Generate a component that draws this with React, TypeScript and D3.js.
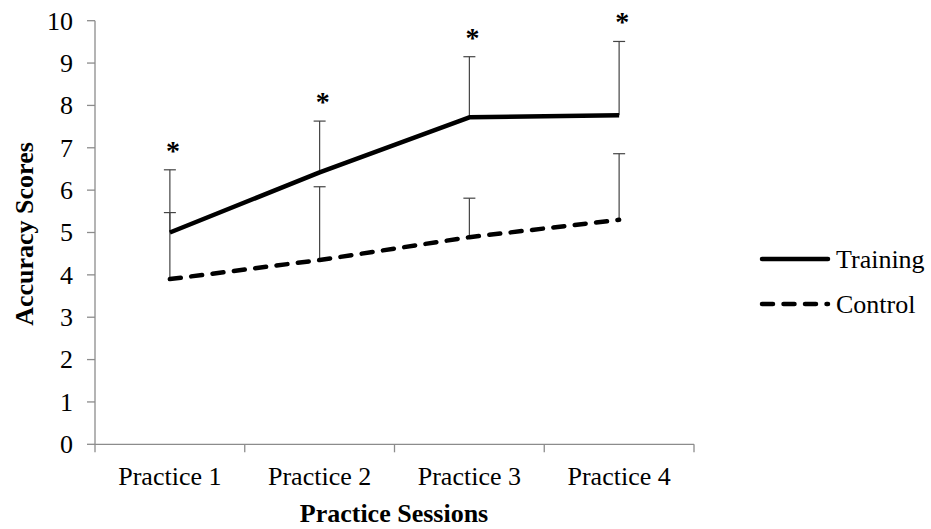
import * as d3 from 'd3';
import React from 'react';

// chart values
const sessions = ['Practice 1', 'Practice 2', 'Practice 3', 'Practice 4'];
const training = [5.0, 6.42, 7.72, 7.77];
const trainingErr = [1.48, 1.21, 1.43, 1.74];
const control = [3.9, 4.35, 4.89, 5.3];
const controlErr = [1.57, 1.73, 0.92, 1.56];
const significant = [true, true, true, true];
const yTicks = [0, 1, 2, 3, 4, 5, 6, 7, 8, 9, 10];

const W = 931;
const H = 529;
const font = "'Times New Roman', 'Liberation Serif', 'DejaVu Serif', serif";
const dash = '11,10.5';

function App() {
  const x = d3.scaleBand<string>().domain(sessions).range([95, 694]);
  const y = d3.scaleLinear().domain([0, 10]).range([444.3, 20.7]);
  const cx = (s: string) => (x(s) || 0) + x.bandwidth() / 2;

  const line = d3.line<number>()
    .x((d, i) => cx(sessions[i]))
    .y((d) => y(d));

  const errBar = (vals: number[], errs: number[], key: string) =>
    vals.map((v, i) => {
      const px = cx(sessions[i]);
      const top = y(v + errs[i]);
      return (
        <g key={key + i} stroke="#444" strokeWidth={1.2}>
          <line x1={px} x2={px} y1={y(v)} y2={top} />
          <line x1={px - 6} x2={px + 6} y1={top} y2={top} />
        </g>
      );
    });

  return (
    <svg width={W} height={H} style={{ position: 'absolute', left: 0, top: 0, fontFamily: font }}>
      <rect width={W} height={H} fill="#fff" />

      {/* axes */}
      <g stroke="#8c8c8c" strokeWidth={1.3}>
        <line x1={95} x2={95} y1={y(10)} y2={y(0)} />
        <line x1={95} x2={694} y1={y(0)} y2={y(0)} />
        {yTicks.map((t) => (
          <line key={'yt' + t} x1={87} x2={95} y1={y(t)} y2={y(t)} />
        ))}
        {[...sessions.map((s) => x(s) || 0), 694].map((px, i) => (
          <line key={'xt' + i} x1={px} x2={px} y1={y(0)} y2={y(0) + 8} />
        ))}
      </g>
      {yTicks.map((t) => (
        <text key={'yl' + t} x={73} y={y(t)} dy="0.34em" textAnchor="end" fontSize={26} fill="#000">
          {t}
        </text>
      ))}
      {sessions.map((s) => (
        <text key={s} x={cx(s)} y={485} textAnchor="middle" fontSize={26} fill="#000">
          {s}
        </text>
      ))}
      <text x={394} y={522} textAnchor="middle" fontSize={26} fontWeight="bold">
        Practice Sessions
      </text>
      <text
        transform={`translate(33,234) rotate(-90)`}
        textAnchor="middle"
        fontSize={26}
        fontWeight="bold"
      >
        Accuracy Scores
      </text>

      {/* error bars */}
      {errBar(training, trainingErr, 'te')}
      {errBar(control, controlErr, 'ce')}

      {/* series */}
      <path d={line(training) || ''} fill="none" stroke="#000" strokeWidth={4.5} strokeLinejoin="round" />
      <path
        d={line(control) || ''}
        fill="none"
        stroke="#000"
        strokeWidth={4.5}
        strokeDasharray={dash}
        strokeLinecap="round"
      />

      {/* significance markers */}
      {significant.map((sig, i) =>
        sig ? (
          <text
            key={'s' + i}
            x={cx(sessions[i]) + 3}
            y={y(training[i] + trainingErr[i]) - 10}
            textAnchor="middle"
            fontSize={28}
            fontWeight="bold"
          >
            *
          </text>
        ) : null
      )}

      {/* legend */}
      <line x1={762} x2={828} y1={259} y2={259} stroke="#000" strokeWidth={4.5} strokeLinecap="round" />
      <text x={836} y={259} dy="0.34em" fontSize={26}>Training</text>
      <line
        x1={762}
        x2={828}
        y1={304}
        y2={304}
        stroke="#000"
        strokeWidth={4.5}
        strokeLinecap="round"
        strokeDasharray={dash}
      />
      <text x={836} y={304} dy="0.34em" fontSize={26}>Control</text>
    </svg>
  );
}

export default App;
